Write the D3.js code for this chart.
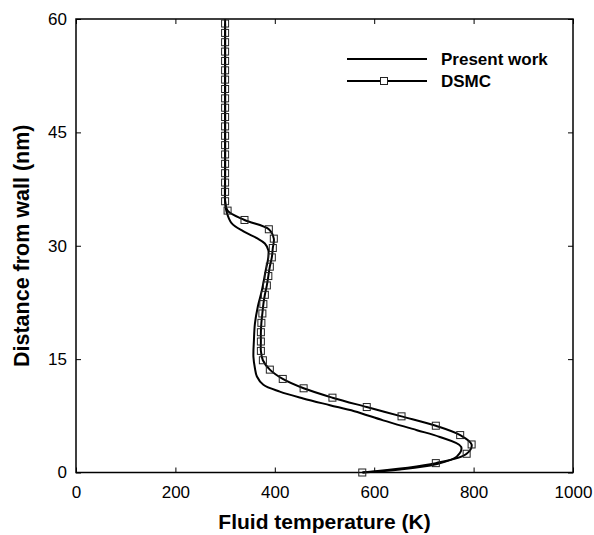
<!DOCTYPE html>
<html>
<head>
<meta charset="utf-8">
<script src="https://cdn.jsdelivr.net/npm/d3@7"></script>
<style>
  body { margin: 0; background: #fff; }
  text { font-family: Arial, "Liberation Sans", sans-serif; }
</style>
</head>
<body>
<script>
  var margin = {top: 19, right: 21, bottom: 62.5, left: 76},
      W = 594, H = 535,
      width = W - margin.left - margin.right,
      height = H - margin.top - margin.bottom;

  // Present work (continuous curve): distance (nm) and temperature (K)
  var presentDist = [0, 0.4, 1.1, 2.1, 3.4, 4.7, 5.6, 6.9, 8.1, 8.9, 9.8, 10.7, 11.6, 12.7, 13.8, 15.3,
                     17.5, 19.7, 22, 24.1, 26.5, 28.5, 29.4, 30.3, 31.0, 31.9, 33.0, 34.5, 36, 40, 50, 60];
  var presentTemp = [577, 652, 724, 766, 775, 732, 686, 618, 560, 511, 457, 410, 377, 364, 360, 357,
                     358, 360, 366, 374, 381, 387, 387, 380, 364, 337, 313, 303, 300, 300, 300, 300];

  // DSMC points
  var dsmcDist = [0, 1.24, 2.48, 3.71, 4.95, 6.19, 7.43, 8.66, 9.9, 11.14, 12.38, 13.61, 14.85, 16.09,
                  17.33, 18.56, 19.8, 21.04, 22.28, 23.51, 24.75, 25.99, 27.23, 28.46, 29.7, 30.94,
                  32.18, 33.41, 34.65, 35.89, 37.13, 38.36, 39.6, 40.84, 42.08, 43.31, 44.55, 45.79,
                  47.03, 48.26, 49.5, 50.74, 51.98, 53.21, 54.45, 55.69, 56.93, 58.16, 59.4];
  var dsmcTemp = [576, 724, 786, 796, 773, 724, 655, 585, 516, 458, 416, 390, 376, 372,
                  372, 372, 373, 375, 377, 380, 384, 387, 390, 394, 396, 398,
                  388, 339, 305, 300, 300, 300, 300, 300, 300, 300, 300, 300,
                  300, 300, 300, 300, 300, 300, 300, 300, 300, 300, 300];

  var xTicks = [0, 200, 400, 600, 800, 1000];
  var yTicks = [0, 15, 30, 45, 60];

  var seriesNames = ["Present work", "DSMC"];

  var present = presentDist.map(function(d, i) { return {d: d, t: presentTemp[i]}; });
  var dsmc = dsmcDist.map(function(d, i) { return {d: d, t: dsmcTemp[i]}; });

  var svg = d3.select("body").append("svg")
      .attr("width", W)
      .attr("height", H);

  var g = svg.append("g")
      .attr("transform", "translate(" + margin.left + "," + margin.top + ")");

  var x = d3.scaleLinear().domain([0, 1000]).range([0, width]);
  var y = d3.scaleLinear().domain([0, 60]).range([height, 0]);

  var line = d3.line()
      .x(function(p) { return x(p.t); })
      .y(function(p) { return y(p.d); })
      .curve(d3.curveCatmullRom.alpha(0.5));

  // axes, ticks pointing inward
  function styleAxis(sel) {
    sel.select(".domain").remove();
    sel.selectAll(".tick line").attr("stroke", "#000").attr("stroke-width", 1);
    sel.selectAll(".tick text").attr("fill", "#000").style("font-size", "17px");
  }

  g.append("g")
      .attr("transform", "translate(0," + height + ")")
      .call(d3.axisBottom(x).tickValues(xTicks).tickFormat(d3.format("d"))
        .tickSizeInner(-5).tickSizeOuter(0).tickPadding(13))
      .call(styleAxis);

  g.append("g")
      .call(d3.axisTop(x).tickValues(xTicks).tickSizeInner(-5).tickSizeOuter(0).tickFormat(""))
      .call(styleAxis);

  g.append("g")
      .call(d3.axisLeft(y).tickValues(yTicks).tickSizeInner(-5).tickSizeOuter(0).tickPadding(9))
      .call(styleAxis);

  g.append("g")
      .attr("transform", "translate(" + width + ",0)")
      .call(d3.axisRight(y).tickValues(yTicks).tickSizeInner(-5).tickSizeOuter(0).tickFormat(""))
      .call(styleAxis);

  // frame
  g.append("rect")
      .attr("width", width)
      .attr("height", height)
      .attr("fill", "none")
      .attr("stroke", "#000")
      .attr("stroke-width", 1.5);

  // curves
  g.append("path")
      .datum(present)
      .attr("d", line)
      .attr("fill", "none")
      .attr("stroke", "#000")
      .attr("stroke-width", 2);

  g.append("path")
      .datum(dsmc)
      .attr("d", line)
      .attr("fill", "none")
      .attr("stroke", "#000")
      .attr("stroke-width", 2);

  var ms = 7;
  g.selectAll(".mk")
      .data(dsmc)
      .enter().append("rect")
      .attr("class", "mk")
      .attr("x", function(p) { return x(p.t) - ms / 2; })
      .attr("y", function(p) { return y(p.d) - ms / 2; })
      .attr("width", ms)
      .attr("height", ms)
      .attr("fill", "none")
      .attr("stroke", "#222")
      .attr("stroke-width", 1);

  // legend
  var leg = svg.append("g");
  seriesNames.forEach(function(name, i) {
    var ly = 59 + i * 22;
    leg.append("line")
        .attr("x1", 347).attr("x2", 427)
        .attr("y1", ly).attr("y2", ly)
        .attr("stroke", "#000")
        .attr("stroke-width", 2);
    if (i === 1) {
      leg.append("rect")
          .attr("x", 384 - ms / 2).attr("y", ly - ms / 2)
          .attr("width", ms).attr("height", ms)
          .attr("fill", "#fff")
          .attr("stroke", "#222");
    }
    leg.append("text")
        .attr("x", 441)
        .attr("y", ly + 6)
        .style("font-size", "17px")
        .style("font-weight", "bold")
        .text(name);
  });

  // axis titles
  svg.append("text")
      .attr("x", margin.left + width / 2)
      .attr("y", 529)
      .attr("text-anchor", "middle")
      .style("font-size", "21px")
      .style("font-weight", "bold")
      .text("Fluid temperature (K)");

  svg.append("text")
      .attr("transform", "translate(29," + (margin.top + height / 2) + ") rotate(-90)")
      .attr("text-anchor", "middle")
      .style("font-size", "21.5px")
      .style("font-weight", "bold")
      .text("Distance from wall (nm)");
</script>
</body>
</html>
